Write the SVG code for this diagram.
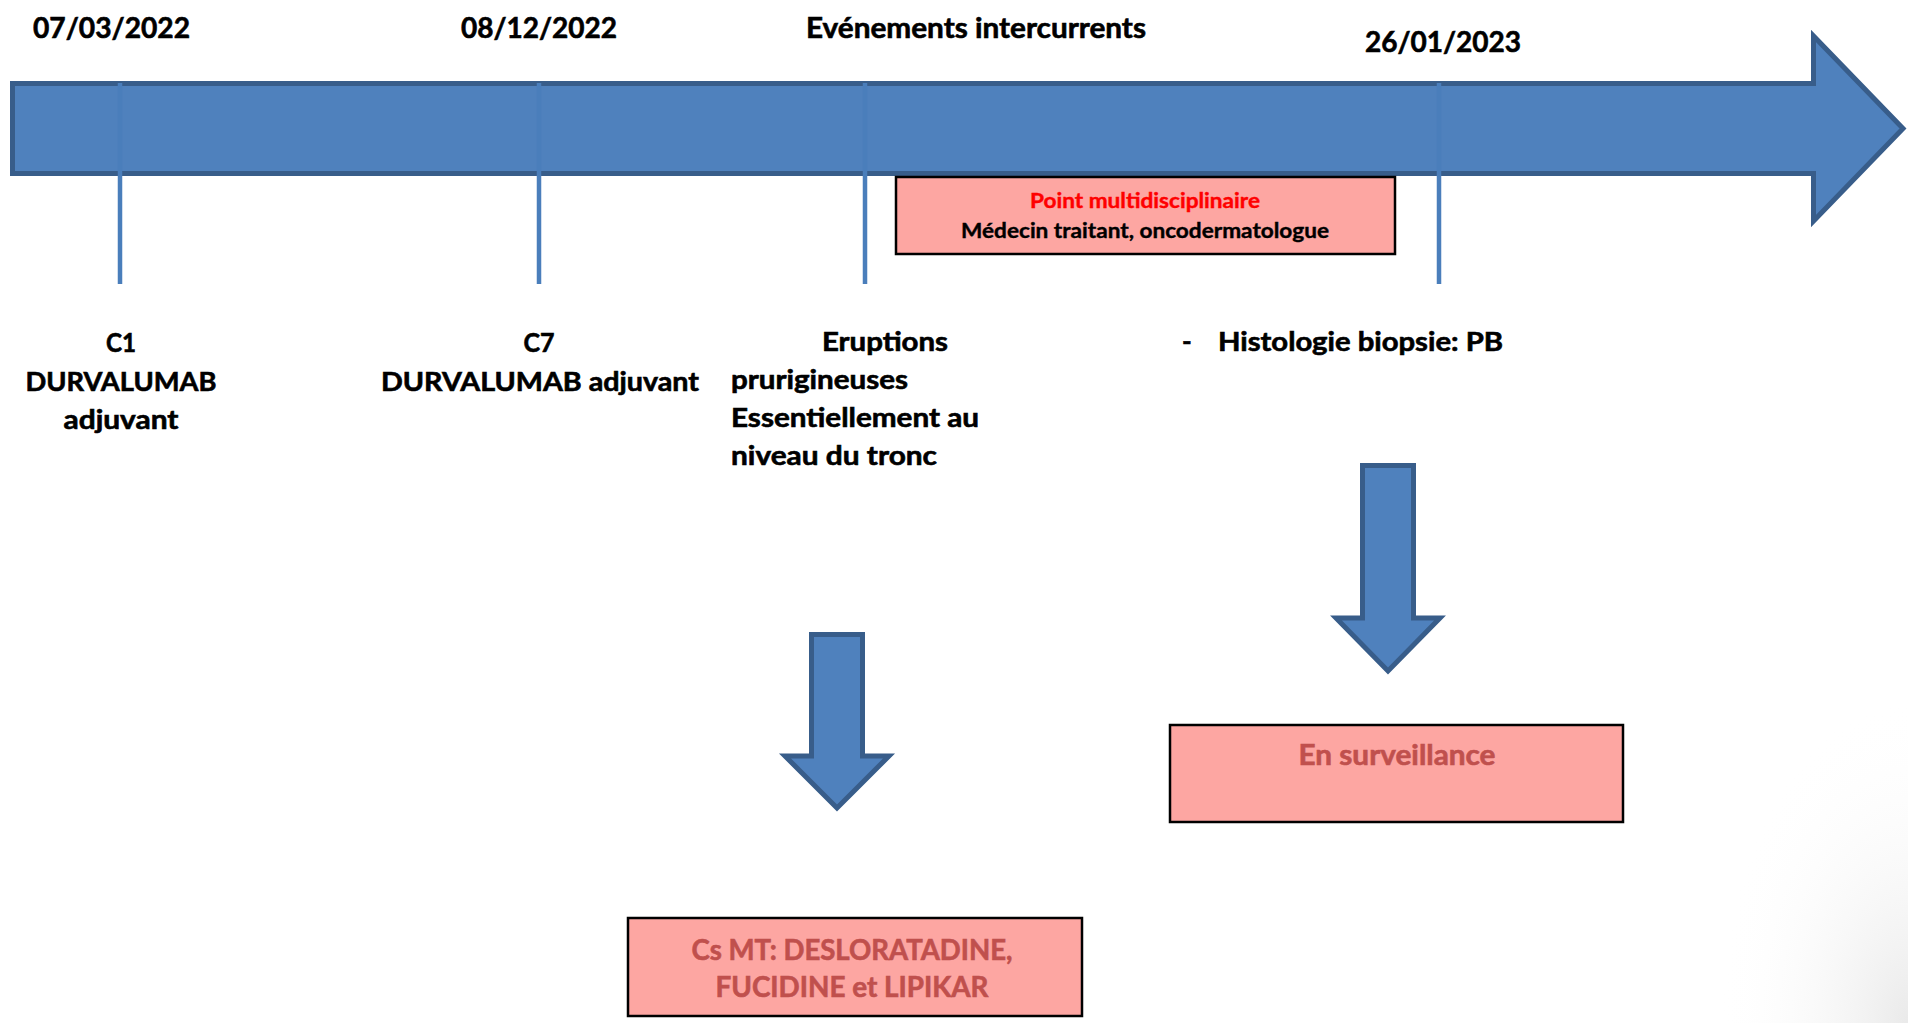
<svg xmlns="http://www.w3.org/2000/svg" width="1908" height="1023" viewBox="0 0 1908 1023">
  <style>
    text { font-family: Lato, "Liberation Sans", "DejaVu Sans", sans-serif; font-weight: 700; fill: #000; stroke: #000; stroke-width: 0.6; }
    .date { font-size: 29px; }
    .lbl { font-size: 26px; }
    .small { font-size: 21px; stroke-width: 0.4; }
    .box-note { font-size: 28px; fill: #C0504D; stroke: #C0504D; }
    .red { fill: #FF0000; stroke: #FF0000; }
    .mid { text-anchor: middle; }
    .blue-arrow { fill: #4F81BD; stroke: #385D8A; stroke-width: 5; stroke-linejoin: miter; }
    .tick { stroke: #4A7EBB; stroke-width: 4.5; fill: none; }
    .pink { fill: #FDA6A2; stroke: #000; stroke-width: 2.5; }
  </style>
  <defs>
    <radialGradient id="corner-shade" cx="1" cy="1" r="1">
      <stop offset="0" stop-color="#D8D8D8" stop-opacity="0.55"/>
      <stop offset="1" stop-color="#FFFFFF" stop-opacity="0"/>
    </radialGradient>
  </defs>

  <rect x="0" y="0" width="1908" height="1023" fill="#FFFFFF"/>
  <!-- soft shading in the lower right corner of the slide -->
  <rect x="1720" y="700" width="188" height="323" fill="url(#corner-shade)"/>

  <!-- timeline arrow -->
  <g id="timeline">
    <path class="blue-arrow" d="M12.5,83.5 H1813.5 V36 L1903,128.5 L1813.5,221 V173.5 H12.5 Z"/>
  </g>

  <!-- date ticks and block arrows -->
  <g id="connectors">
    <line class="tick" x1="120" y1="83" x2="120" y2="284"/>
    <line class="tick" x1="539" y1="83" x2="539" y2="284"/>
    <line class="tick" x1="865" y1="83" x2="865" y2="284"/>
    <line class="tick" x1="1439" y1="83" x2="1439" y2="284"/>
    <path class="blue-arrow" d="M811.5,634.5 H862.5 V756 H889 L837,808 L785,756 H811.5 Z"/>
    <path class="blue-arrow" d="M1362.5,465.5 H1413.5 V618 H1440 L1388,671 L1336,618 H1362.5 Z"/>
  </g>

  <!-- dates above the timeline -->
  <g id="date-1"><text class="date" x="33" y="38" textLength="157" lengthAdjust="spacingAndGlyphs">07/03/2022</text></g>
  <g id="date-2"><text class="date" x="461" y="38" textLength="156" lengthAdjust="spacingAndGlyphs">08/12/2022</text></g>
  <g id="date-3"><text class="date" x="806" y="38" textLength="340" lengthAdjust="spacingAndGlyphs">Evénements intercurrents</text></g>
  <g id="date-4"><text class="date" x="1365" y="52" textLength="156" lengthAdjust="spacingAndGlyphs">26/01/2023</text></g>

  <!-- event labels -->
  <g id="event-c1">
    <text class="lbl mid" x="121" y="352" textLength="30" lengthAdjust="spacingAndGlyphs">C1</text>
    <text class="lbl mid" x="121" y="391" textLength="191" lengthAdjust="spacingAndGlyphs">DURVALUMAB</text>
    <text class="lbl mid" x="121" y="429" textLength="115" lengthAdjust="spacingAndGlyphs">adjuvant</text>
  </g>
  <g id="event-c7">
    <text class="lbl mid" x="539" y="352" textLength="31" lengthAdjust="spacingAndGlyphs">C7</text>
    <text class="lbl mid" x="540" y="391" textLength="318" lengthAdjust="spacingAndGlyphs">DURVALUMAB adjuvant</text>
  </g>
  <g id="event-eruptions">
    <text class="lbl" x="822" y="351" textLength="126" lengthAdjust="spacingAndGlyphs">Eruptions</text>
    <text class="lbl" x="731" y="389" textLength="177" lengthAdjust="spacingAndGlyphs">prurigineuses</text>
    <text class="lbl" x="731" y="427" textLength="248" lengthAdjust="spacingAndGlyphs">Essentiellement au</text>
    <text class="lbl" x="731" y="465" textLength="206" lengthAdjust="spacingAndGlyphs">niveau du tronc</text>
  </g>
  <g id="event-histologie">
    <text class="lbl" x="1182" y="351">-</text>
    <text class="lbl" x="1218" y="351" textLength="285" lengthAdjust="spacingAndGlyphs">Histologie biopsie: PB</text>
  </g>

  <!-- multidisciplinary meeting box -->
  <g id="box-point">
    <rect class="pink" x="896" y="177" width="499" height="77"/>
    <text class="small red mid" x="1145" y="208" textLength="230" lengthAdjust="spacingAndGlyphs">Point multidisciplinaire</text>
    <text class="small mid" x="1145" y="238" textLength="368" lengthAdjust="spacingAndGlyphs">Médecin traitant, oncodermatologue</text>
  </g>

  <!-- outcome boxes -->
  <g id="box-surveillance">
    <rect class="pink" x="1170" y="725" width="453" height="97"/>
    <text class="box-note mid" x="1397" y="765" textLength="197" lengthAdjust="spacingAndGlyphs">En surveillance</text>
  </g>
  <g id="box-traitement">
    <rect class="pink" x="628" y="918" width="454" height="98"/>
    <text class="box-note mid" x="852" y="960" textLength="321" lengthAdjust="spacingAndGlyphs">Cs MT: DESLORATADINE,</text>
    <text class="box-note mid" x="852" y="997" textLength="273" lengthAdjust="spacingAndGlyphs">FUCIDINE et LIPIKAR</text>
  </g>
</svg>
